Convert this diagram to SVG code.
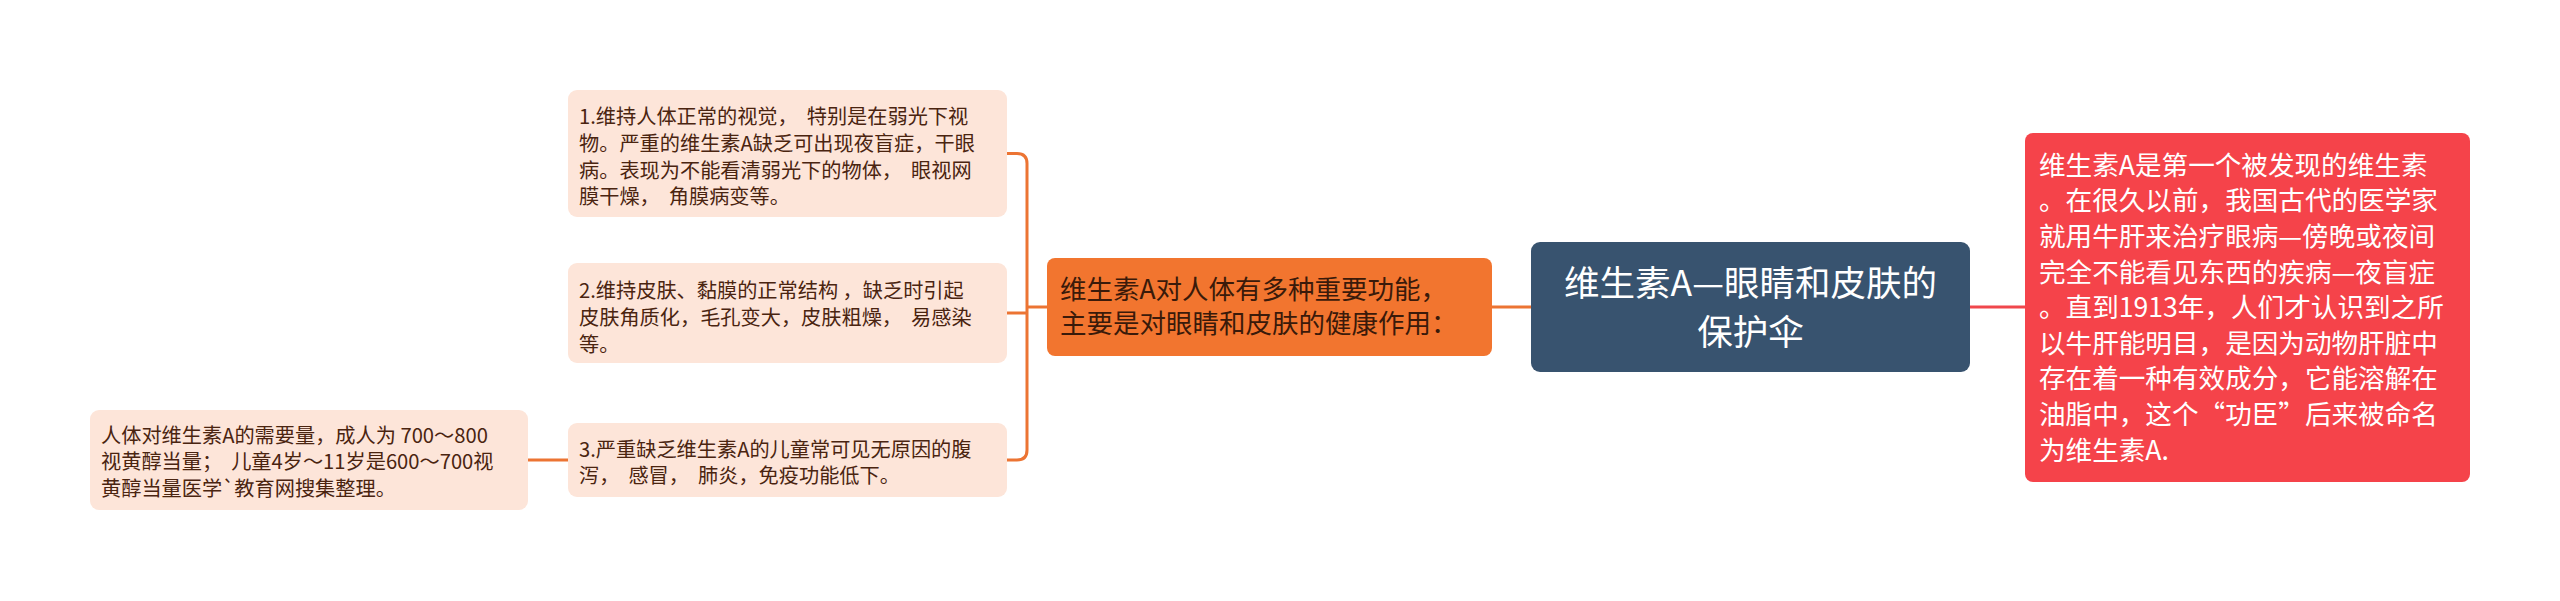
<svg xmlns="http://www.w3.org/2000/svg" width="2560" height="601" viewBox="0 0 2560 601">
<style>
.t{font-family:"Noto Sans CJK SC","Microsoft YaHei",sans-serif}
.leaf rect{fill:#fde5d9}
.leaf text{font-size:20.2px;fill:#4a2410}
.conn path{fill:none;stroke:#ec7433;stroke-width:3}
</style>
<rect width="2560" height="601" fill="#ffffff"/>
<g class="conn" id="connectors">
<path d="M1492 307 H1531"/>
<path d="M1970 307 H2025" style="stroke:#f0474c"/>
<path d="M1047 307 H1027"/>
<path d="M1007 153.5 H1017 Q1027 153.5 1027 163.5 V450 Q1027 460 1017 460 H1007"/>
<path d="M1007 313 H1027"/>
<path d="M568 460 H528"/>
</g>
<g id="root">
<rect x="1531" y="242" width="439" height="130" rx="9" fill="#38536f"/>
<text class="t" font-size="35.5" fill="#ffffff" text-anchor="middle"><tspan x="1750.5" y="296">维生素A—眼睛和皮肤的</tspan><tspan x="1750.5" y="345">保护伞</tspan></text>
</g>
<g id="main">
<rect x="1047" y="258" width="445" height="98" rx="8" fill="#f2752f"/>
<text class="t" font-size="26.5" fill="#3a1a0a"><tspan x="1060" y="299">维生素A对人体有多种重要功能，</tspan><tspan x="1060" y="332.5">主要是对眼睛和皮肤的健康作用：</tspan></text>
</g>
<g id="intro">
<rect x="2025" y="133" width="445" height="349" rx="8" fill="#f5434a"/>
<text class="t" font-size="26.6" fill="#ffffff"><tspan x="2039" y="174.8">维生素A是第一个被发现的维生素</tspan><tspan x="2039" y="210.4">。在很久以前，我国古代的医学家</tspan><tspan x="2039" y="246">就用牛肝来治疗眼病—傍晚或夜间</tspan><tspan x="2039" y="281.6">完全不能看见东西的疾病—夜盲症</tspan><tspan x="2039" y="317.2">。直到1913年，人们才认识到之所</tspan><tspan x="2039" y="352.8">以牛肝能明目，是因为动物肝脏中</tspan><tspan x="2039" y="388.4">存在着一种有效成分，它能溶解在</tspan><tspan x="2039" y="424">油脂中，这个“功臣”后来被命名</tspan><tspan x="2039" y="459.6">为维生素A.</tspan></text>
</g>
<g id="item1" class="leaf">
<rect x="568" y="90" width="439" height="127" rx="9"/>
<text class="t" xml:space="preserve"><tspan x="579" y="124.3">1.维持人体正常的视觉，  特别是在弱光下视</tspan><tspan x="579" y="151">物。严重的维生素A缺乏可出现夜盲症，干眼</tspan><tspan x="579" y="177.6">病。表现为不能看清弱光下的物体，  眼视网</tspan><tspan x="579" y="204.3">膜干燥，  角膜病变等。</tspan></text>
</g>
<g id="item2" class="leaf">
<rect x="568" y="263" width="439" height="100" rx="9"/>
<text class="t" xml:space="preserve"><tspan x="579" y="298.3">2.维持皮肤、黏膜的正常结构 ，缺乏时引起</tspan><tspan x="579" y="325">皮肤角质化，毛孔变大，皮肤粗燥，  易感染</tspan><tspan x="579" y="351.7">等。</tspan></text>
</g>
<g id="item3" class="leaf">
<rect x="568" y="423" width="439" height="74" rx="9"/>
<text class="t" xml:space="preserve"><tspan x="579" y="456.6">3.严重缺乏维生素A的儿童常可见无原因的腹</tspan><tspan x="579" y="483.3">泻，  感冒，  肺炎，免疫功能低下。</tspan></text>
</g>
<g id="item3-note" class="leaf">
<rect x="90" y="410" width="438" height="100" rx="9"/>
<text class="t" xml:space="preserve"><tspan x="101" y="442.6">人体对维生素A的需要量，成人为 700～800</tspan><tspan x="101" y="469.3">视黄醇当量；  儿童4岁～11岁是600～700视</tspan><tspan x="101" y="496">黄醇当量医学`教育网搜集整理。</tspan></text>
</g>
</svg>
